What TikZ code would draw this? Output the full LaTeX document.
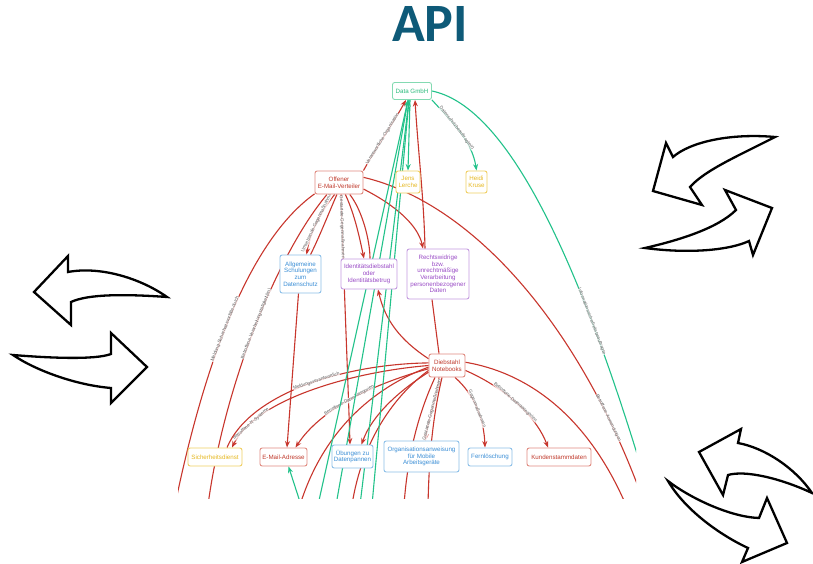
\documentclass[tikz,border=0pt]{standalone}
\usepackage{fontspec}
\setmainfont{Liberation Sans}
\newfontfamily\titlefont{Carlito}
\usetikzlibrary{arrows.meta,backgrounds}
\definecolor{tealtitle}{HTML}{0E5A78}
\definecolor{rtext}{HTML}{C0392B}
\definecolor{rbord}{HTML}{E08A80}
\definecolor{redge}{HTML}{C8362D}
\definecolor{gtext}{HTML}{2BBB7C}
\definecolor{gbord}{HTML}{84DAB2}
\definecolor{gedge}{HTML}{22C28A}
\definecolor{ytext}{HTML}{E6B820}
\definecolor{ybord}{HTML}{F0CF62}
\definecolor{btext}{HTML}{3A8ED6}
\definecolor{bbord}{HTML}{8CBFE8}
\definecolor{ptext}{HTML}{9A4CC6}
\definecolor{pbord}{HTML}{C49BE0}
\definecolor{labgray}{HTML}{5E5E5E}
\tikzset{
  ent/.style={draw, fill=white, rounded corners=2.2pt, line width=0.9pt, align=center, inner sep=0pt, font=\fontsize{6.2}{6.7}\selectfont},
  rent/.style={ent, draw=rbord, text=rtext},
  gent/.style={ent, draw=gbord, text=gtext},
  yent/.style={ent, draw=ybord, text=ytext},
  bent/.style={ent, draw=bbord, text=btext},
  pent/.style={ent, draw=pbord, text=ptext},
  redg/.style={draw=redge, line width=1.1pt},
  gedg/.style={draw=gedge, line width=1.1pt},
  tip/.style={-{Stealth[length=6.5pt,width=5pt]}},
  elab/.style={sloped, font=\fontsize{4.6}{4.6}\selectfont, text=labgray, fill=white, fill opacity=0.8, text opacity=1, inner sep=0.2pt},
  bigarrow/.style={draw=black, fill=white, line width=2.3pt, line join=miter},
}
\begin{document}
\begin{tikzpicture}[x=1pt,y=-1pt]
\useasboundingbox (0,0) rectangle (813,564);

% title
\node[font=\titlefont\bfseries\fontsize{54}{54}\selectfont, text=tealtitle, anchor=base, inner sep=0pt] (title) at (430,42) {API};

% entity nodes
\node[gent, minimum width=39pt, minimum height=17pt] (dg) at (412,91) {Data GmbH};
\node[yent, minimum width=24pt, minimum height=22pt] (jl) at (408,182) {Jens\\Lerche};
\node[yent, minimum width=21pt, minimum height=22pt] (hk) at (476.5,182) {Heidi\\Kruse};
\node[rent, minimum width=48pt, minimum height=23pt] (ov) at (339,182.5) {Offener\\E-Mail-Verteiler};
\node[bent, minimum width=41pt, minimum height=38pt] (as) at (300.5,274) {Allgemeine\\Schulungen\\zum\\Datenschutz};
\node[pent, minimum width=56pt, minimum height=30pt] (id) at (369,274) {Identitätsdiebstahl\\oder\\Identitätsbetrug};
\node[pent, minimum width=62pt, minimum height=50pt] (rw) at (438,274) {Rechtswidrige\\bzw.\\unrechtmäßige\\Verarbeitung\\personenbezogener\\Daten};
\node[rent, minimum width=36pt, minimum height=23pt] (dn) at (447,365.5) {Diebstahl\\Notebooks};
\node[yent, minimum width=54pt, minimum height=18pt] (sd) at (215,457) {Sicherheitsdienst};
\node[rent, minimum width=47pt, minimum height=18pt] (ea) at (283.5,457) {E-Mail-Adresse};
\node[bent, minimum width=41pt, minimum height=23pt] (ud) at (352.5,456.5) {Übungen zu\\Datenpannen};
\node[bent, minimum width=75pt, minimum height=31pt] (oa) at (421.5,456.5) {Organisationsanweisung\\für Mobile\\Arbeitsgeräte};
\node[bent, minimum width=44pt, minimum height=18pt] (fl) at (490,457) {Fernlöschung};
\node[rent, minimum width=64pt, minimum height=18pt] (ks) at (559,457) {Kundenstammdaten};

% connectors
\begin{scope}[on background layer]
\fill[white] (0,0) rectangle (813,564);
\begin{scope}
\clip (178,70) rectangle (636,498);
% red connectors
\draw[redg] (ov.-155) .. controls (250,240) and (205,360) .. (175,505) node[elab,pos=0.55]{Meldung-Sicherheitsvorfälle-durch};
\draw[redg] (ov.-135) .. controls (280,250) and (225,380) .. (208,505) node[elab,pos=0.5]{Betroffene-Verarbeitungstätigkeit(en)};
\draw[redg,tip] (ov.-110) .. controls (318,215) and (310,235) .. ([xshift=6pt]as.north) node[elab,pos=0.45]{Umsetzende-Gegenmaßnahmen};
\draw[redg] (ov.-100) .. controls (328,215) and (318,240) .. ([xshift=10pt]as.north);
\draw[redg,tip] ([xshift=-2pt]as.south) -- ([xshift=3.5pt]ea.north);
\draw[redg,tip] (ov.-80) .. controls (343,260) and (348,380) .. ([xshift=-2.5pt]ud.north) node[elab,pos=0.15]{Gestartete-Gegenmaßnahmen};
\draw[redg,tip] (ov.-62) .. controls (355,215) and (360,240) .. ([xshift=-5pt]id.north);
\draw[redg] (ov.-48) .. controls (362,210) and (370,240) .. ([xshift=1pt]id.north);
\draw[redg,tip] (ov.-15) .. controls (395,205) and (418,225) .. ([xshift=-15pt]rw.north);
\draw[redg,tip] (ov.north east) .. controls (375,150) and (395,120) .. ([xshift=-6pt]dg.south) node[elab,pos=0.45]{Verantwortliche-Organisation};
\draw[redg,tip] ([xshift=-13pt]rw.north) .. controls (424,200) and (418,150) .. ([xshift=3pt]dg.south);
\draw[redg] (ov.12) .. controls (480,205) and (590,340) .. (650,520) node[elab,pos=0.8]{Betroffene-Anwendungen};
\draw[redg] ([xshift=-6pt]rw.south) -- ([xshift=-8pt]dn.north);
\draw[redg,tip] (dn.160) .. controls (400,340) and (385,320) .. ([xshift=9pt]id.south);
\draw[redg,tip] (dn.west) .. controls (350,372) and (255,400) .. ([xshift=17pt]sd.north) node[elab,pos=0.82]{Betroffene-IT-Systeme};
\draw[redg] (dn.172) .. controls (345,364) and (250,393) .. ([xshift=12pt]sd.north) node[elab,pos=0.45]{Meldungsverantwortlich};
\draw[redg,tip] (dn.-170) .. controls (370,385) and (320,410) .. ([xshift=12pt]ea.north) node[elab,pos=0.5]{Betroffene-Datenkategorien};
\draw[redg,tip] (dn.-160) .. controls (400,390) and (372,415) .. ([xshift=9pt]ud.north);
\draw[redg,tip] ([xshift=-8pt]dn.south) .. controls (436,400) and (428,420) .. ([xshift=4pt]oa.north) node[elab,pos=0.5]{Gestartete-Gegenmaßnahmen};
\draw[redg,tip] ([xshift=8pt]dn.south) .. controls (475,395) and (484,420) .. ([xshift=-5pt]fl.north) node[elab,pos=0.5]{Gegenmaßnahmen};
\draw[redg,tip] (dn.-15) .. controls (510,390) and (538,420) .. ([xshift=-11pt]ks.north) node[elab,pos=0.45]{Betroffene-Datenkategorien};
\draw[redg] (dn.10) .. controls (540,375) and (595,430) .. (628,510);
\draw[redg] ([xshift=-12pt]dn.south) .. controls (420,410) and (408,450) .. (404,505);
\draw[redg] ([xshift=-5pt]dn.south) .. controls (432,420) and (429,460) .. (428,505);
\draw[redg] (dn.-175) .. controls (380,385) and (325,425) .. (300,505);
\draw[redg] (dn.-165) .. controls (395,395) and (362,440) .. (352,505);
% green connectors
\draw[gedg,tip] (dg.south east) .. controls (450,120) and (472,140) .. (hk.north) node[elab,pos=0.45]{Datenschutzbeauftragte(r)};
\draw[gedg,tip] ([xshift=-2pt]dg.south) -- (jl.north);
\draw[gedg,tip] (318,505) -- ([xshift=-4pt]dg.south);
\draw[gedg] (336,505) -- ([xshift=-4pt]dg.south);
\draw[gedg,tip] (360,505) -- ([xshift=-3pt]dg.south);
\draw[gedg] (372,505) -- ([xshift=-3pt]dg.south);
\draw[gedg,tip] (301,505) -- ([xshift=5pt]ea.south);
\draw[gedg] (dg.east) .. controls (500,105) and (570,230) .. (645,480) node[elab,pos=0.76]{Informationssicherheitsbeauftragte};
\end{scope}
\end{scope}

% side block arrows
\draw[bigarrow] (34,292) -- (68,256) -- (68,272) .. controls (100,266) and (140,278) .. (167,297) .. controls (125,294) and (88,294) .. (71,302) -- (71,325) -- cycle;
\draw[bigarrow] (13,355) .. controls (50,358) and (95,360) .. (111,354) -- (111,333) -- (147,367) -- (111,403) -- (111,388) .. controls (75,385) and (35,370) .. cycle;
\draw[bigarrow] (775,137) .. controls (730,133) and (690,142) .. (673,157) -- (666,143) -- (653,191) -- (702,205) -- (690,187) .. controls (705,170) and (740,155) .. cycle;
\draw[bigarrow] (645,248) .. controls (690,254) and (730,250) .. (749,241) -- (753,255) -- (772,208) -- (725,190) -- (736,210) .. controls (718,228) and (680,240) .. cycle;
\draw[bigarrow] (812,493) .. controls (795,468) and (765,448) .. (738,443) -- (741,429) -- (699,452) -- (723,495) -- (728,475) .. controls (745,470) and (780,478) .. cycle;
\draw[bigarrow] (668,481) .. controls (690,498) and (730,517) .. (759,518) -- (767,498) -- (787,543) -- (742,562) -- (748,548) .. controls (720,535) and (685,510) .. cycle;
\end{tikzpicture}
\end{document}
